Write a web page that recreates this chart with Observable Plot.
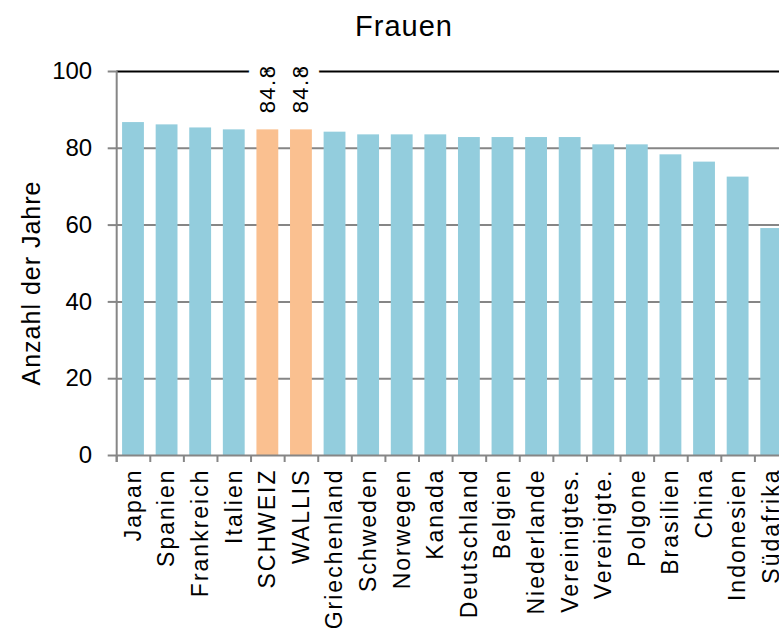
<!DOCTYPE html>
<html>
<head>
<meta charset="utf-8">
<script src="https://cdn.jsdelivr.net/npm/d3@7"></script>
<script src="https://cdn.jsdelivr.net/npm/@observablehq/plot@0.6"></script>
<style>
  html, body { margin: 0; padding: 0; background: #fff; overflow: hidden; width: 779px; height: 632px; }
  #wrap { position: relative; width: 779px; height: 632px; overflow: hidden; font-family: "Liberation Sans", Arial, sans-serif; }
  #chart { position: absolute; left: 0; top: 0; width: 788px; height: 632px; }
  #chart svg { max-width: none !important; width: 788px; height: 632px; }
  #title { position: absolute; left: 304px; width: 200px; top: 12px; text-align: center; font-size: 29px; line-height: 29px; letter-spacing: 1px; color: #000; }
  #ylabel { position: absolute; left: 31px; top: 283px; transform: translate(-50%, -50%) rotate(-90deg); font-size: 25px; line-height: 25px; letter-spacing: 1px; white-space: nowrap; color: #000; }
</style>
</head>
<body>
<div id="wrap">
  <div id="chart"></div>
  <div id="title">Frauen</div>
  <div id="ylabel">Anzahl der Jahre</div>
</div>
<script>
const countries = ["Japan","Spanien","Frankreich","Italien","SCHWEIZ","WALLIS","Griechenland","Schweden","Norwegen","Kanada","Deutschland","Belgien","Niederlande","Vereinigtes.","Vereinigte.","Polgone","Brasilien","China","Indonesien","Südafrika"];
const values = [86.7, 86.1, 85.3, 84.8, 84.8, 84.8, 84.2, 83.5, 83.5, 83.5, 82.8, 82.8, 82.8, 82.8, 80.9, 80.9, 78.3, 76.4, 72.5, 59.1];
const highlighted = ["SCHWEIZ", "WALLIS"];
const labelCountries = ["SCHWEIZ", "WALLIS"];
const labelTexts = ["84.8", "84.8"];
const yTicks = [0, 20, 40, 60, 80, 100];
const gridValues = [20, 40, 60, 80];
const topValue = [100];

const data = countries.map((c, i) => ({country: c, value: values[i], hl: highlighted.includes(c)}));
const labelData = labelCountries.map((c, i) => ({country: c, value: values[countries.indexOf(c)], text: labelTexts[i]}));

const grey = "#868686";
const halfStep = 16.8;

const svg = Plot.plot({
  width: 788,
  height: 632,
  marginTop: 71,
  marginBottom: 177,
  marginLeft: 116.2,
  marginRight: 0,
  style: {fontFamily: '"Liberation Sans", Arial, sans-serif', background: "transparent", color: "#000", maxWidth: "none"},
  x: {domain: countries, paddingInner: 0.35, paddingOuter: 0.175, round: false, label: null},
  y: {domain: [0, 100], label: null},
  marks: [
    Plot.ruleY(gridValues, {stroke: grey, strokeWidth: 2}),
    Plot.ruleY(topValue, {stroke: "#000", strokeWidth: 2}),
    Plot.axisY({ticks: yTicks, tickSize: 8.5, tickPadding: 16, stroke: grey, strokeWidth: 2, fontSize: 24, label: null}),
    Plot.barY(data, {x: "country", y: "value", fill: d => d.hl ? "#FAC090" : "#93CDDD"}),
    Plot.ruleY([0], {stroke: grey, strokeWidth: 2}),
    Plot.ruleX([countries[0]], {x: d => d, y1: 100, y2: 0, dx: -halfStep, insetBottom: -7, stroke: grey, strokeWidth: 2}),
    Plot.ruleX(countries, {x: d => d, y1: 0, y2: 0, dx: -halfStep, insetBottom: -7, stroke: grey, strokeWidth: 2}),
    Plot.axisX({tickSize: 0, tickPadding: 13, tickRotate: -90, fontSize: 23, label: null}),
    Plot.text(labelData, {x: "country", y: "value", text: "text", rotate: -90, textAnchor: "start", dy: -16.5, fontSize: 22, fill: "#000", stroke: "white", strokeWidth: 22})
  ]
});

svg.style.maxWidth = "none";
d3.select(svg).selectAll('g[aria-label="x-axis tick label"] text').attr("letter-spacing", "2px");
d3.select(svg).selectAll('g[aria-label="text"] text').attr("letter-spacing", "1.5px");
document.getElementById("chart").appendChild(svg);
</script>
</body>
</html>
